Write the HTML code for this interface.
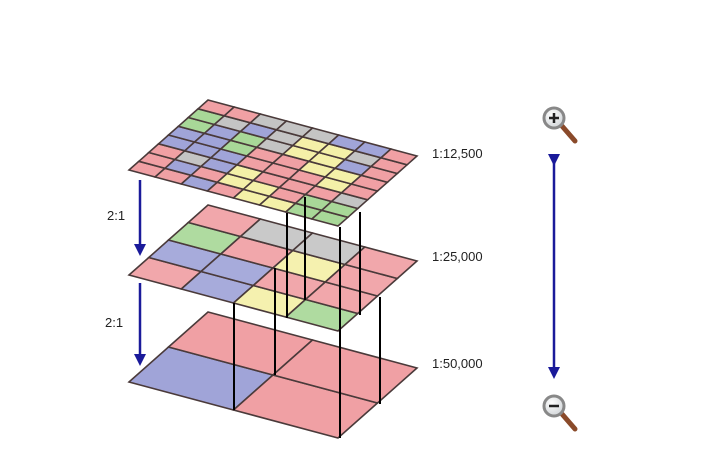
<!DOCTYPE html>
<html><head><meta charset="utf-8"><style>
html,body{margin:0;padding:0;background:#fff;}
svg{display:block;}
text{font-family:"Liberation Sans",sans-serif;font-size:13px;fill:#222;}
</style></head><body>
<svg id="s" width="721" height="473" viewBox="0 0 721 473" xmlns="http://www.w3.org/2000/svg">
<defs>
<marker id="ah" markerWidth="12" markerHeight="12" refX="6" refY="6" orient="auto" markerUnits="userSpaceOnUse"><path d="M0,0 L12,6 L0,12 z" fill="#1a1a9a"/></marker>
<radialGradient id="lens" cx="0.4" cy="0.35" r="0.7"><stop offset="0" stop-color="#fff"/><stop offset="1" stop-color="#cfd3d6"/></radialGradient>
</defs>
<g id="planes"></g>
<g stroke="#000" stroke-width="2">
<line x1="234" y1="303" x2="234" y2="410"/>
<line x1="275" y1="268" x2="275" y2="375"/>
<line x1="380" y1="297" x2="380" y2="404"/>
<line x1="340" y1="227" x2="340" y2="438"/>
</g>
<g id="top"></g>
<g stroke="#000" stroke-width="2">
<line x1="287" y1="213" x2="287" y2="318"/>
<line x1="305" y1="197" x2="305" y2="300"/>
<line x1="360" y1="212" x2="360" y2="315"/>
</g>
<text x="432" y="158">1:12,500</text>
<text x="432" y="261">1:25,000</text>
<text x="432" y="368">1:50,000</text>
<text x="107" y="220">2:1</text>
<text x="105" y="327">2:1</text>
<line x1="140" y1="180" x2="140" y2="250" stroke="#1a1a9a" stroke-width="2.5" marker-end="url(#ah)"/>
<line x1="140" y1="283" x2="140" y2="360" stroke="#1a1a9a" stroke-width="2.5" marker-end="url(#ah)"/>
<line x1="554" y1="160" x2="554" y2="373" stroke="#1a1a9a" stroke-width="2.5" marker-end="url(#ah)" marker-start="url(#ah)"/>
<g>
<line x1="562" y1="126" x2="575" y2="141" stroke="#8a4a2a" stroke-width="5" stroke-linecap="round"/>
<circle cx="554" cy="118" r="10" fill="url(#lens)" stroke="#888" stroke-width="3"/>
<path d="M549,118 h10 M554,113 v10" stroke="#222" stroke-width="2.5"/>
</g>
<g>
<line x1="562" y1="414" x2="575" y2="429" stroke="#8a4a2a" stroke-width="5" stroke-linecap="round"/>
<circle cx="554" cy="406" r="10" fill="url(#lens)" stroke="#888" stroke-width="3"/>
<path d="M549,406 h10" stroke="#222" stroke-width="2.5"/>
</g>
</svg>
<script>
var C={P:"#f0a0a4",B:"#a0a4d8",G:"#a8d898",Y:"#f4f0a8",R:"#c4c4c4"};
var u=[79,-70],v=[209,56];
function plane(g,Lx,Ly,rows,op){
 var n=rows.length,s="";
 for(var a=0;a<n;a++){var row=rows[n-1-a];
  for(var b=0;b<n;b++){
   var pts=[[a,b],[a+1,b],[a+1,b+1],[a,b+1]].map(function(p){
    return (Lx+p[0]/n*u[0]+p[1]/n*v[0]).toFixed(1)+","+(Ly+p[0]/n*u[1]+p[1]/n*v[1]).toFixed(1);}).join(" ");
   s+='<polygon points="'+pts+'" fill="'+C[row[b]]+'" fill-opacity="'+op+'" stroke="#4a3a3a" stroke-width="1.6"/>';
  }}
 g.innerHTML+=s;
}
var gp=document.getElementById("planes"),gt=document.getElementById("top");
plane(gp,129,382,["PP","BP"],1);
plane(gp,129,275,["PRRP","GPYP","BBPP","PBYG"],0.92);
plane(gt,129,170,["PPRRRBBP","GRBRYYRP","GBGRYYBP","BBGPPYYP","BBBPPPYP","PRBYPPPR","PBPYYPGG","PPBPYYGG"],1);
</script>
</body></html>
